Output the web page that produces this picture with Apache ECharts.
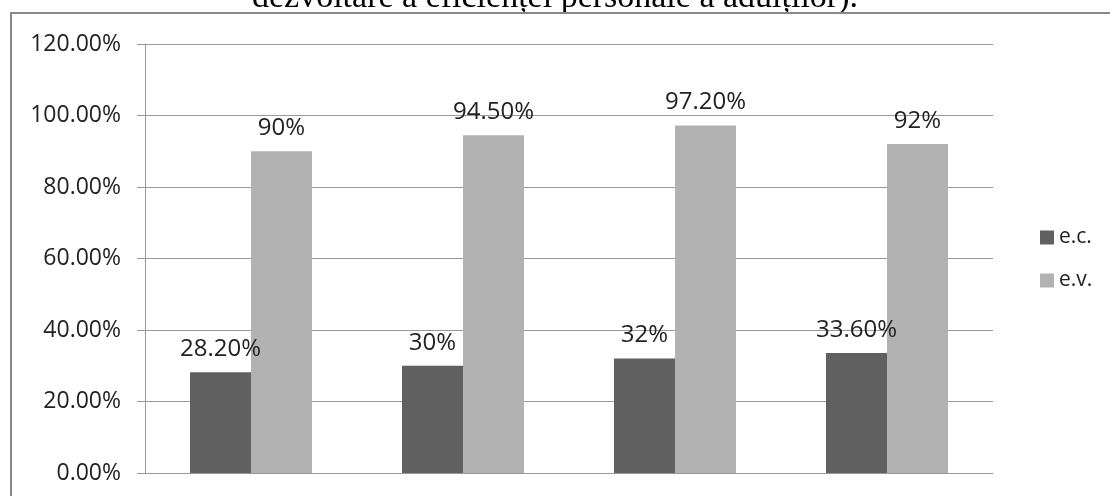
<!DOCTYPE html>
<html>
<head>
<meta charset="utf-8">
<script src="https://cdn.jsdelivr.net/npm/echarts@6/dist/echarts.min.js"></script>
<style>
html, body { margin: 0; padding: 0; background: #fff; }
#chart { width: 1110px; height: 496px; }
</style>
</head>
<body>
<div id="chart"></div>
<script>
// date
var categories = ['1', '2', '3', '4'];
var ecValues = [28.2, 30, 32, 33.6];
var evValues = [90, 94.5, 97.2, 92];
var seriesNames = ['e.c.', 'e.v.'];

var myChart = echarts.init(document.getElementById('chart'));

function pct(v) {
    // 30 -> "30%", 28.2 -> "28.20%"
    return (Math.round(v) === v ? v : v.toFixed(2)) + '%';
}

var labelStyle = {
    show: true,
    position: 'top',
    distance: 11,
    color: '#222',
    fontSize: 24,
    fontFamily: 'Open Sans',
    formatter: function (p) { return pct(p.value); }
};

var option = {
    animation: false,
    backgroundColor: '#fff',
    graphic: [
        {
            type: 'text',
            x: 555,
            y: 15,
            style: {
                text: 'dezvoltare a eficienței personale a adulților).',
                font: '34px "Liberation Serif"',
                fill: '#000',
                align: 'center',
                verticalAlign: 'bottom'
            }
        },
        {
            type: 'rect',
            shape: { x: 11, y: 13, width: 1110, height: 500 },
            style: { fill: 'none', stroke: '#888', lineWidth: 2 },
            silent: true
        }
    ],
    legend: {
        orient: 'vertical',
        left: 1035,
        top: 222,
        itemWidth: 14,
        itemHeight: 14,
        itemGap: 22,
        icon: 'rect',
        textStyle: { fontSize: 21, fontFamily: 'Open Sans', color: '#222' },
        data: seriesNames
    },
    grid: {
        left: 145,
        right: 117,
        top: 44,
        bottom: 23
    },
    xAxis: {
        type: 'category',
        data: categories,
        axisLine: { lineStyle: { color: '#999' } },
        axisTick: { show: false },
        axisLabel: { show: false }
    },
    yAxis: {
        type: 'value',
        min: 0,
        max: 120,
        interval: 20,
        axisLine: { show: true, lineStyle: { color: '#999' } },
        axisTick: { show: true, length: 8, lineStyle: { color: '#999' } },
        splitLine: { lineStyle: { color: '#999' } },
        axisLabel: {
            fontSize: 23,
            fontFamily: 'Open Sans',
            color: '#222',
            margin: 24,
            formatter: function (v) { return v.toFixed(2) + '%'; }
        }
    },
    series: [
        {
            name: seriesNames[0],
            type: 'bar',
            barWidth: 61,
            barGap: '0%',
            itemStyle: { color: '#606060' },
            label: labelStyle,
            data: ecValues
        },
        {
            name: seriesNames[1],
            type: 'bar',
            barWidth: 61,
            barGap: '0%',
            itemStyle: { color: '#b2b2b2' },
            label: labelStyle,
            data: evValues
        }
    ]
};
myChart.setOption(option);
</script>
</body>
</html>
